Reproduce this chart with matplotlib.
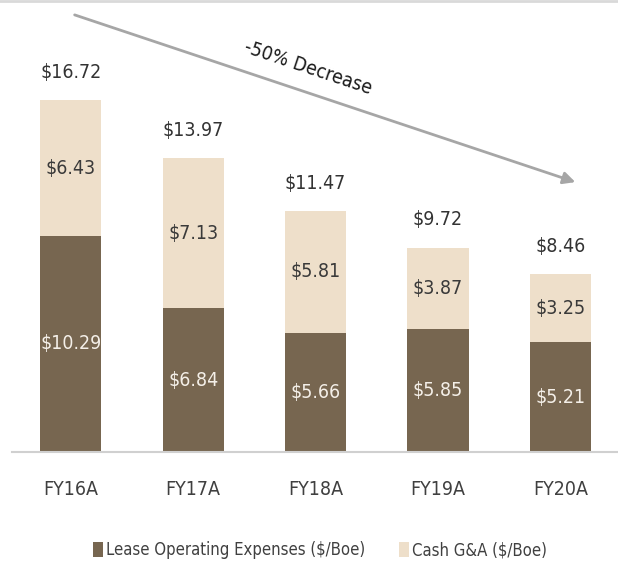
import matplotlib
matplotlib.use("Agg")
import matplotlib.pyplot as plt
from matplotlib.lines import Line2D

plt.rcParams['font.family'] = ['DejaVu Sans']
plt.rcParams['font.stretch'] = 'condensed'

years = ["FY16A", "FY17A", "FY18A", "FY19A", "FY20A"]
loe = [10.29, 6.84, 5.66, 5.85, 5.21]
cash_ga = [6.43, 7.13, 5.81, 3.87, 3.25]
totals = [16.72, 13.97, 11.47, 9.72, 8.46]

dark = '#776650'
light = '#eedfca'

fig = plt.figure(figsize=(6.18, 5.62), dpi=100)
ax = fig.add_axes([12/618, 110/562, 606/618, 452/562])

x = list(range(len(years)))
b1 = ax.bar(x, loe, width=0.5, color=dark, label='Lease Operating Expenses ($/Boe)')
b2 = ax.bar(x, cash_ga, width=0.5, bottom=loe, color=light, label='Cash G&A ($/Boe)')

for i in x:
    ax.text(i, loe[i] / 2, "$%.2f" % loe[i], ha='center', va='center',
            color='#f4efe8', fontsize=14)
    ax.text(i, loe[i] + cash_ga[i] / 2, "$%.2f" % cash_ga[i], ha='center',
            va='center', color='#3a3a3a', fontsize=14)
    ax.annotate("$%.2f" % totals[i], (i, totals[i]), xytext=(0, 20),
                textcoords='offset points', ha='center', va='center',
                color='#333333', fontsize=14)

ax.set_xlim(-0.48, 4.47)
ax.set_ylim(0, 21.5)
ax.set_xticks(x)
ax.set_xticklabels(years, fontsize=14, color='#404040')
ax.tick_params(axis='x', length=0, pad=20)
ax.set_yticks([])
for s in ['top', 'left', 'right']:
    ax.spines[s].set_visible(False)
ax.spines['bottom'].set_color('#d0d0d0')
ax.spines['bottom'].set_linewidth(1.5)

# trend arrow
ax.annotate('', xy=(578/618, 1 - 183/562), xytext=(72/618, 1 - 14/562),
            xycoords='figure fraction', textcoords='figure fraction',
            arrowprops=dict(arrowstyle='-|>', color='#a6a6a6', lw=2,
                            mutation_scale=18))
fig.text(308/618, 1 - 68/562, "-50% Decrease", rotation=-18.5,
         ha='center', va='center', fontsize=14, color='#1a1a1a',
         rotation_mode='anchor')

# top border
fig.add_artist(Line2D([0, 1], [0.998, 0.998], color='#d9d9d9', lw=2,
                      transform=fig.transFigure))

fig.legend(handles=[b1, b2], loc='center', bbox_to_anchor=(0.518, 1 - 550/562),
           ncol=2, frameon=False, fontsize=12, handlelength=0.6,
           handleheight=1.0, handletextpad=0.2, columnspacing=2.0,
           labelcolor='#404040')

fig.savefig('out.png', dpi=100)
